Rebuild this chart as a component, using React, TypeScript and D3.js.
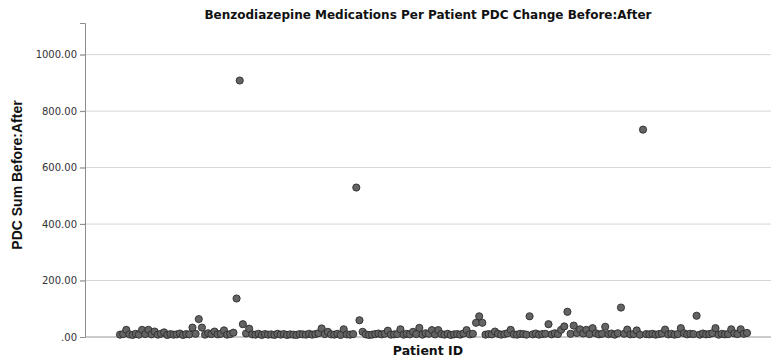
/**
 * PDC change scatter — one dot per patient, value = PDC sum before:after
 */
import { useEffect, useRef } from 'react';
import * as d3 from 'd3';

const TITLE = 'Benzodiazepine Medications Per Patient PDC Change Before:After';
const X_LABEL = 'Patient ID';
const Y_LABEL = 'PDC Sum Before:After';

const Y_TICKS = [0, 200, 400, 600, 800, 1000];

// PDC sum per patient, in patient order
const PDC_VALUES = [
  3, 5, 20, 4, 2, 6, 3, 20, 5, 20, 4, 14, 3, 6, 11, 2, 5, 3, 4, 7,
  2, 5, 4, 28, 6, 58, 28, 3, 8, 5, 14, 4, 6, 18, 3, 5, 10, 131, 903, 40,
  7, 24, 4, 3, 6, 2, 5, 3, 4, 2, 6, 3, 5, 2, 4, 3, 2, 5, 4, 3,
  6, 3, 5, 8, 25, 5, 13, 4, 3, 6, 2, 22, 4, 3, 5, 524, 54, 13, 4, 2,
  3, 5, 7, 4, 6, 17, 3, 4, 5, 22, 3, 6, 4, 13, 5, 27, 3, 8, 6, 19,
  4, 19, 5, 3, 6, 2, 4, 5, 3, 7, 19, 4, 6, 45, 68, 45, 3, 5, 4, 14,
  6, 3, 5, 8, 20, 4, 3, 6, 5, 3, 68, 4, 7, 3, 5, 6, 40, 4, 8, 5,
  20, 32, 84, 6, 35, 9, 22, 7, 20, 5, 26, 8, 4, 6, 31, 5, 7, 3, 8, 99,
  6, 21, 4, 5, 18, 3, 729, 5, 4, 6, 3, 5, 7, 21, 4, 6, 3, 5, 26, 8,
  4, 6, 5, 70, 3, 7, 4, 5, 8, 26, 3, 6, 4, 5, 22, 7, 5, 22, 6, 9,
];

const PATIENT_IDS = PDC_VALUES.map((_, i) => i + 1);

export default function App() {
  const svgRef = useRef<SVGSVGElement>(null);
  const width = 771;
  const height = 359;

  useEffect(() => {
    if (!svgRef.current) return;
    const svg = d3.select(svgRef.current);
    svg.selectAll('*').remove();

    const margin = { top: 23, right: 0, bottom: 22, left: 85 };
    const plotW = width - margin.left - margin.right;
    const plotH = height - margin.top - margin.bottom;

    const xScale = d3.scaleLinear()
      .domain([PATIENT_IDS[0], PATIENT_IDS[PATIENT_IDS.length - 1]])
      .range([35, 662]);
    const yScale = d3.scaleLinear().domain([0, 1112]).range([plotH, 0]);

    const g = svg.append('g')
      .attr('transform', `translate(${margin.left},${margin.top})`);

    // ── grid ──
    g.append('g')
      .selectAll('line')
      .data(Y_TICKS.filter((t) => t > 0))
      .enter()
      .append('line')
      .attr('x1', -5)
      .attr('x2', plotW)
      .attr('y1', (d) => yScale(d))
      .attr('y2', (d) => yScale(d))
      .attr('stroke', '#d6d6d6')
      .attr('stroke-width', 1);

    // ── y axis ──
    const yAxis = g.append('g')
      .call(d3.axisLeft(yScale).tickValues(Y_TICKS).tickSize(5)
        .tickFormat((d) => (d === 0 ? '.00' : (d as number).toFixed(2))));
    yAxis.select('.domain').attr('stroke', '#8c8c8c');
    yAxis.selectAll('.tick line').attr('stroke', '#8c8c8c');
    yAxis.selectAll('.tick text')
      .attr('fill', '#333')
      .attr('font-size', '10px')
      .attr('font-family', 'DejaVu Sans, sans-serif');

    // x baseline
    g.append('line')
      .attr('x1', 0)
      .attr('x2', plotW)
      .attr('y1', yScale(0))
      .attr('y2', yScale(0))
      .attr('stroke', '#9a9a9a')
      .attr('stroke-width', 1.2);

    // ── points ──
    g.selectAll('.pt')
      .data(PDC_VALUES)
      .enter()
      .append('circle')
      .attr('class', 'pt')
      .attr('cx', (_, i) => xScale(PATIENT_IDS[i]))
      .attr('cy', (d) => yScale(d) - 1.5)
      .attr('r', 3.6)
      .attr('fill', '#646464')
      .attr('stroke', '#2e2e2e')
      .attr('stroke-width', 0.9);

    // ── labels ──
    svg.append('text')
      .attr('x', margin.left + plotW / 2)
      .attr('y', 19)
      .attr('text-anchor', 'middle')
      .attr('font-family', 'DejaVu Sans, sans-serif')
      .attr('font-weight', 'bold')
      .attr('font-size', '12px')
      .attr('fill', '#111')
      .text(TITLE);

    svg.append('text')
      .attr('x', margin.left + plotW / 2)
      .attr('y', 355)
      .attr('text-anchor', 'middle')
      .attr('font-family', 'DejaVu Sans, sans-serif')
      .attr('font-weight', 'bold')
      .attr('font-size', '12.5px')
      .attr('fill', '#111')
      .text(X_LABEL);

    svg.append('text')
      .attr('transform', 'rotate(-90)')
      .attr('x', -175)
      .attr('y', 22)
      .attr('text-anchor', 'middle')
      .attr('font-family', 'Liberation Sans Narrow, Liberation Sans, sans-serif')
      .attr('font-weight', 'bold')
      .attr('font-size', '14px')
      .attr('fill', '#111')
      .text(Y_LABEL);
  }, []);

  return (
    <svg
      ref={svgRef}
      width={width}
      height={height}
      style={{ position: 'absolute', left: 0, top: 0, background: '#fff' }}
    />
  );
}
